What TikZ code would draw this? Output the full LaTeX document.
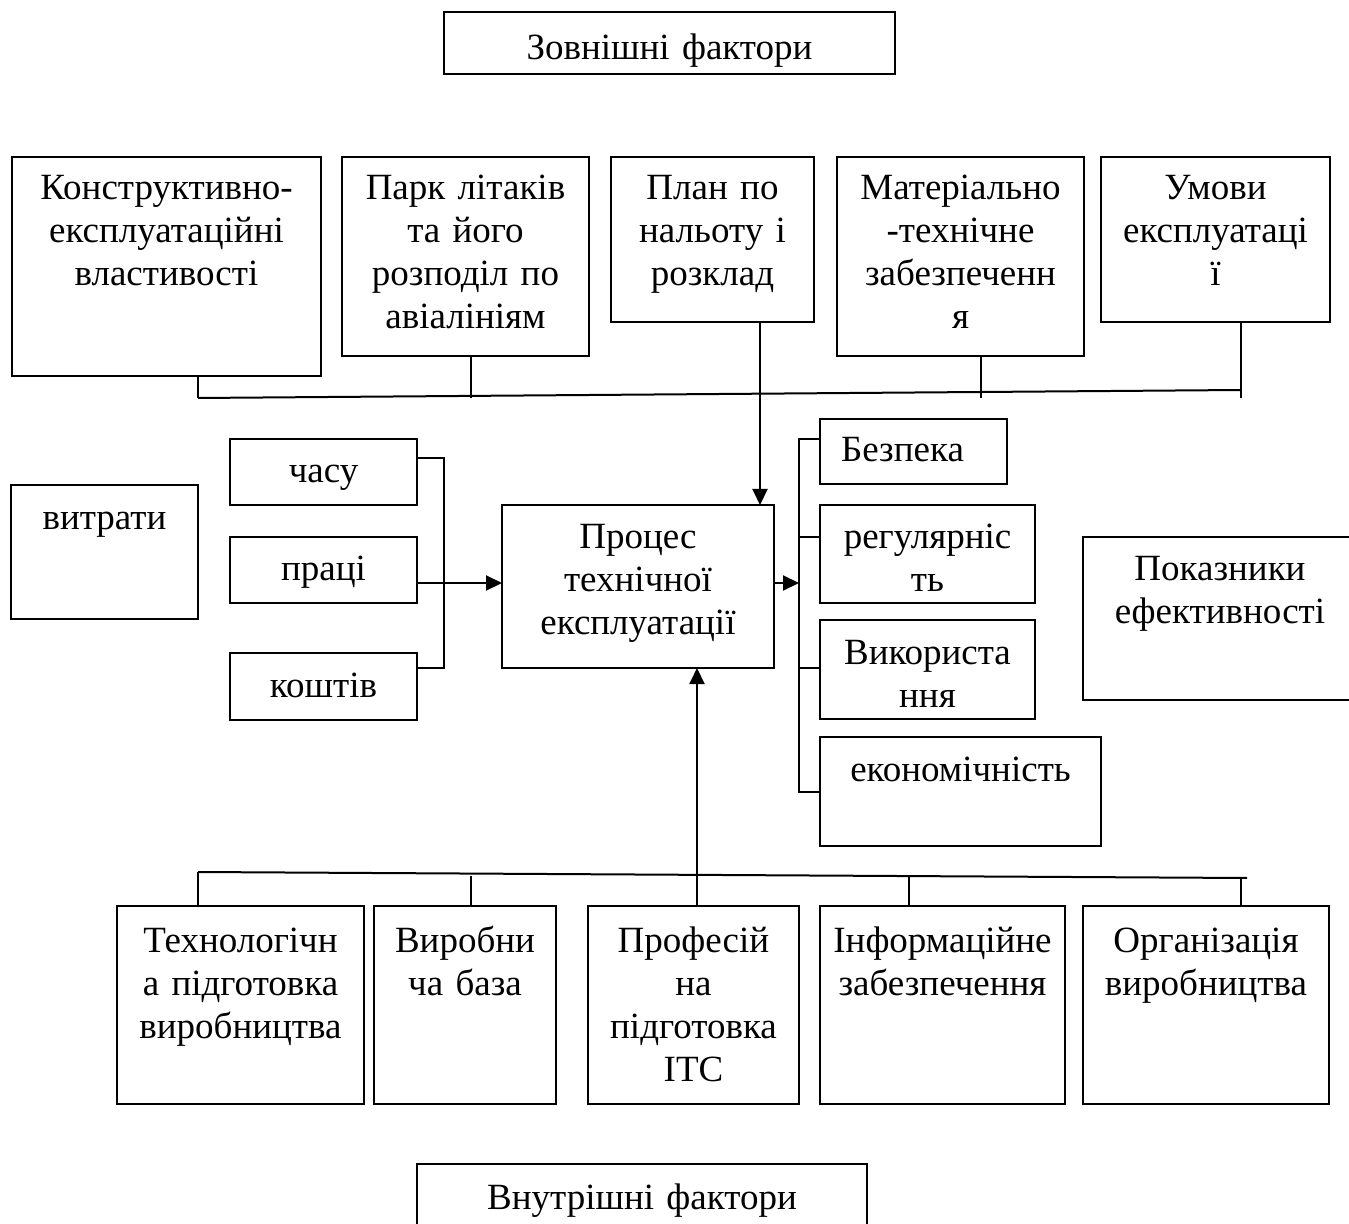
\documentclass[tikz,border=0pt]{standalone}
\usepackage{fontspec}
\setmainfont{Liberation Serif}
\usetikzlibrary{positioning,calc,arrows.meta}

\tikzset{
  box/.style={draw, line width=1.2pt, anchor=north west, inner sep=0pt, outer sep=0pt},
  lbl/.style={align=center, anchor=base, inner sep=0pt, text width=160pt,
    font=\fontsize{18.5}{21.5}\selectfont},
  wire/.style={line width=1pt},
  flow/.style={wire, -{Triangle[length=8pt, width=7.5pt]}},
}

\begin{document}
\begin{tikzpicture}[x=0.5pt, y=-0.5pt]
  \useasboundingbox (0,0) rectangle (1349,1224);

  % External factors
  \node[box, minimum width=225.5pt, minimum height=31pt] (zovn) at (444,12) {};
  \node[lbl] (zovnT) at ([yshift=-24pt]zovn.north) {Зовнішні фактори};

  % Top row
  \node[box, minimum width=154.5pt, minimum height=109.5pt] (konstr) at (12,157) {};
  \node[lbl] (konstrT) at ([yshift=-21.5pt]konstr.north) {Конструктивно-\\експлуатаційні\\властивості};
  \node[box, minimum width=123.5pt, minimum height=99.5pt] (park) at (342,157) {};
  \node[lbl] (parkT) at ([yshift=-21.5pt]park.north) {Парк літаків\\та його\\розподіл по\\авіалініям};
  \node[box, minimum width=101.5pt, minimum height=82.5pt] (plan) at (611,157) {};
  \node[lbl] (planT) at ([yshift=-21.5pt]plan.north) {План по\\нальоту і\\розклад};
  \node[box, minimum width=123.5pt, minimum height=99.5pt] (mater) at (837,157) {};
  \node[lbl] (materT) at ([yshift=-21.5pt]mater.north) {Матеріально\\-технічне\\забезпеченн\\я};
  \node[box, minimum width=114.5pt, minimum height=82.5pt] (umovy) at (1101,157) {};
  \node[lbl] (umovyT) at ([yshift=-21.5pt]umovy.north) {Умови\\експлуатаці\\ї};

  % Top bus
  \coordinate (tbL) at (198,398);
  \coordinate (tbR) at (1241,390);
  \draw[wire] (tbL) -- (tbR);
  \draw[wire] (konstr.south -| tbL) -- (tbL);
  \draw[wire] (park.south -| 471,0) -- (471,398);
  \draw[wire] (mater.south -| 981,0) -- (981,398);
  \draw[wire] (umovy.south -| 1241,0) -- (1241,398);

  % Costs
  \node[box, minimum width=93.5pt, minimum height=67pt] (vytraty) at (11,485) {};
  \node[lbl] (vytratyT) at ([yshift=-22.5pt]vytraty.north) {витрати};
  \node[box, minimum width=93.5pt, minimum height=33pt] (chasu) at (230,439) {};
  \node[lbl] (chasuT) at ([yshift=-22pt]chasu.north) {часу};
  \node[box, minimum width=93.5pt, minimum height=33pt] (pratsi) at (230,537) {};
  \node[lbl] (pratsiT) at ([yshift=-22pt]pratsi.north) {праці};
  \node[box, minimum width=93.5pt, minimum height=33.5pt] (koshtiv) at (230,653) {};
  \node[lbl] (koshtivT) at ([yshift=-22pt]koshtiv.north) {коштів};

  % Process
  \node[box, minimum width=136pt, minimum height=81.5pt] (proces) at (502,505) {};
  \node[lbl] (procesT) at ([yshift=-22pt]proces.north) {Процес\\технічної\\експлуатації};

  \coordinate (cTap) at ([yshift=-9.5pt]chasu.north east);
  \coordinate (pTap) at ([yshift=-23pt]pratsi.north east);
  \coordinate (kTap) at ([yshift=-7.5pt]koshtiv.north east);
  \draw[wire] (cTap) -- ++(27,0) |- (kTap);
  \draw[flow] (pTap) -- (proces.west |- pTap);
  \draw[flow] (plan.south -| 760,0) -- (proces.north -| 760,0);

  % Indicators
  \node[box, minimum width=93.5pt, minimum height=32.5pt] (bezpeka) at (820,419) {};
  \node[lbl, xshift=-5.5pt] (bezpekaT) at ([yshift=-21.5pt]bezpeka.north) {Безпека};
  \node[box, minimum width=107.5pt, minimum height=49pt] (rehul) at (820,505) {};
  \node[lbl] (rehulT) at ([yshift=-22pt]rehul.north) {регулярніс\\ть};
  \node[box, minimum width=107.5pt, minimum height=49.5pt] (vykor) at (820,620) {};
  \node[lbl] (vykorT) at ([yshift=-22pt]vykor.north) {Використа\\ння};
  \node[box, minimum width=140.5pt, minimum height=54.5pt] (ekon) at (820,737) {};
  \node[lbl] (ekonT) at ([yshift=-22pt]ekon.north) {економічність};
  \node[box, minimum width=137pt, minimum height=81.5pt] (pokaz) at (1083,537) {};
  \node[lbl] (pokazT) at ([yshift=-22pt]pokaz.north) {Показники\\ефективності};

  \coordinate (bTap) at ([yshift=-10pt]bezpeka.north west);
  \coordinate (eTap) at ([yshift=-27.5pt]ekon.north west);
  \draw[wire] (bTap) -- ++(-21,0) |- (eTap);
  \draw[wire] ([yshift=-16pt]rehul.north west) -- ++(-21,0);
  \draw[wire] ([yshift=-24pt]vykor.north west) -- ++(-21,0);
  \draw[flow] (proces.east |- pTap) -- ++(25,0);

  % Bottom row
  \node[box, minimum width=123.5pt, minimum height=99pt] (tekhn) at (117,906) {};
  \node[lbl] (tekhnT) at ([yshift=-23pt]tekhn.north) {Технологічн\\а підготовка\\виробництва};
  \node[box, minimum width=91pt, minimum height=99pt] (vyrob) at (374,906) {};
  \node[lbl] (vyrobT) at ([yshift=-23pt]vyrob.north) {Виробни\\ча база};
  \node[box, minimum width=105.5pt, minimum height=99pt] (prof) at (588,906) {};
  \node[lbl] (profT) at ([yshift=-23pt]prof.north) {Професій\\на\\підготовка\\ІТС};
  \node[box, minimum width=122.5pt, minimum height=99pt] (inform) at (820,906) {};
  \node[lbl] (informT) at ([yshift=-23pt]inform.north) {Інформаційне\\забезпечення};
  \node[box, minimum width=123pt, minimum height=99pt] (orhan) at (1083,906) {};
  \node[lbl] (orhanT) at ([yshift=-23pt]orhan.north) {Організація\\виробництва};

  % Bottom bus
  \coordinate (bbL) at (198,872);
  \coordinate (bbR) at (1247,878);
  \draw[wire] (bbL) -- (bbR);
  \draw[wire] (tekhn.north -| bbL) -- (bbL);
  \draw[wire] (vyrob.north -| 471,0) -- (471,876);
  \draw[wire] (inform.north -| 909,0) -- (909,877);
  \draw[wire] (orhan.north -| 1241,0) -- (1241,878);
  \draw[flow] ([xshift=1.75pt]prof.north) -- ([xshift=1.75pt]prof.north |- proces.south);

  % Internal factors
  \node[box, minimum width=225pt, minimum height=48pt] (vnutr) at (417,1164) {};
  \node[lbl] (vnutrT) at ([yshift=-22.5pt]vnutr.north) {Внутрішні фактори};
\end{tikzpicture}
\end{document}
